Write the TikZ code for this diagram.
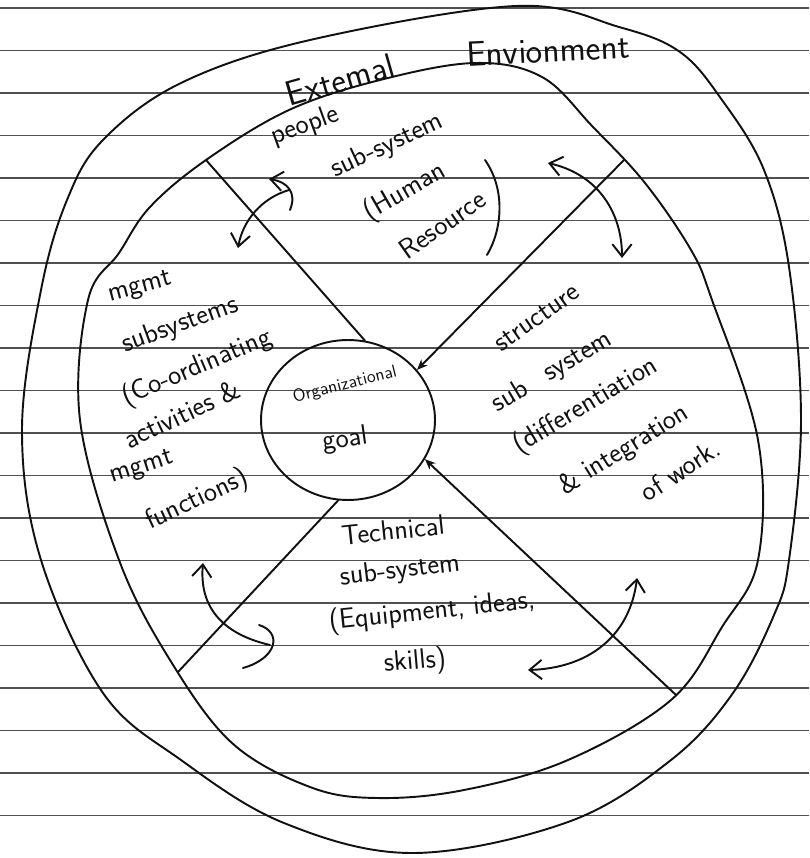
\documentclass[tikz,border=0pt]{standalone}
\usepackage{fontspec}
\usepackage{tikz}
\usetikzlibrary{arrows.meta, shapes.geometric}
\definecolor{cInk}{HTML}{111111}
\definecolor{cRule}{HTML}{505050}
\tikzset{
  ink/.style={draw=cInk, line width=1.1pt, line cap=round, line join=round},
  rule/.style={draw=cRule, line width=0.7pt},
  hand/.style={font=\fontsize{16}{19}\selectfont\sffamily, text=cInk, inner sep=0pt},
  bighand/.style={hand, font=\fontsize{20}{24}\selectfont\sffamily},
  smallhand/.style={hand, font=\fontsize{10}{12}\selectfont\sffamily},
  harrow/.style={ink, {Straight Barb[length=7pt, width=11pt]}-{Straight Barb[length=7pt, width=11pt]}},
  tarrow/.style={ink, -{Straight Barb[length=7pt, width=11pt]}},
  garrow/.style={ink, -{Stealth[length=6pt, width=5pt]}},
}

\begin{document}
\begin{tikzpicture}[x=0.02cm, y=-0.02cm]
  \useasboundingbox (0,0) rectangle (809,858);

  % ruled paper
  \foreach \k in {0,...,19} {
    \draw[rule] (0,{8+42.5*\k}) -- (809,{8+42.5*\k});
  }

  % outer and inner boundary
  \draw[ink] plot[smooth cycle, tension=0.6] coordinates {
    (516,6) (619,27) (680,52) (722,100) (764,170) (789,267) (801,420)
    (789,560) (774,615) (733,693) (671,760) (568,822) (413,853) (284,823)
    (181,760) (103,693) (41,560) (22,430) (41,290) (67,200) (103,140)
    (181,83) (310,40)};
  \draw[ink] plot[smooth cycle, tension=0.6] coordinates {
    (475,63) (542,77) (593,127) (645,183) (691,250) (712,300) (758,440)
    (758,560) (722,627) (671,700) (568,760) (464,790) (377,798) (310,787)
    (232,743) (170,660) (119,560) (80,420) (88,300) (119,253) (150,207)
    (206,160) (289,110) (380,80)};

  % centre
  \node[ink, ellipse, minimum width=3.48cm, minimum height=3.2cm, inner sep=0pt] (goal) at (348,420) {};

  % dividers
  \coordinate (tl) at (206,160);
  \coordinate (tr) at (624,160);
  \coordinate (br) at (676,695);
  \coordinate (bl) at (178,672);
  \draw[ink]    (tl) -- (goal.78);
  \draw[garrow] (tr) -- (goal.36);
  \draw[garrow] (br) -- (goal.-27);
  \draw[ink]    (bl) -- (goal.-97);

  % labels
  \node[bighand, rotate=16] (ext1) at (340,80) {Extemal};
  \node[bighand, rotate=3]  (ext2) at (548,50) {Envionment};

  \node[hand, rotate=20] (ppl1) at (305,126) {people};
  \node[hand, rotate=25] (ppl2) at (387,146) {sub-system};
  \node[hand, rotate=30] (ppl3) at (405,192) {(Human};
  \node[hand, rotate=35] (ppl4) at (442,224) {Resource};
  \draw[ink] (485,160) .. controls (506,190) and (502,230) .. (487,255);

  \node[hand, rotate=15] (mg1) at (140,288) {mgmt};
  \node[hand, rotate=20] (mg2) at (180,325) {subsystems};
  \node[hand, rotate=23] (mg3) at (197,368) {(Co-ordinating};
  \node[hand, rotate=25] (mg4) at (182,414) {activities \&};
  \node[hand, rotate=18] (mg5) at (142,468) {mgmt};
  \node[hand, rotate=25] (mg6) at (197,500) {functions)};

  \node[smallhand, rotate=14] (org1) at (345,385) {Organizational};
  \node[hand, rotate=8] (org2) at (345,440) {goal};

  \node[hand, rotate=35] (st1) at (537,318) {structure};
  \node[hand, rotate=31] (st2) at (552,372) {sub\hspace{0.8em}system};
  \node[hand, rotate=31] (st3) at (586,406) {(differentiation};
  \node[hand, rotate=32] (st4) at (624,450) {\& integration};
  \node[hand, rotate=33] (st5) at (680,470) {of work.};

  \node[hand, rotate=6] (tc1) at (393,530) {Technical};
  \node[hand, rotate=7] (tc2) at (400,571) {sub-system};
  \node[hand, rotate=6] (tc3) at (432,612) {(Equipment, ideas,};
  \node[hand, rotate=5] (tc4) at (415,662) {skills)};

  % interaction arrows
  \draw[tarrow] (289,190) .. controls (262,198) and (243,220) .. (238,248);
  \draw[tarrow] (290,210) .. controls (297,193) and (288,182) .. (269,179);
  \draw[harrow] (548,163) .. controls (600,175) and (622,215) .. (622,258);
  \draw[tarrow] (270,645) .. controls (240,638) and (198,620) .. (203,563);
  \draw[ink]    (259,625) .. controls (282,632) and (278,658) .. (243,668);
  \draw[harrow] (637,578) .. controls (630,635) and (590,668) .. (528,670);

\end{tikzpicture}
\end{document}
